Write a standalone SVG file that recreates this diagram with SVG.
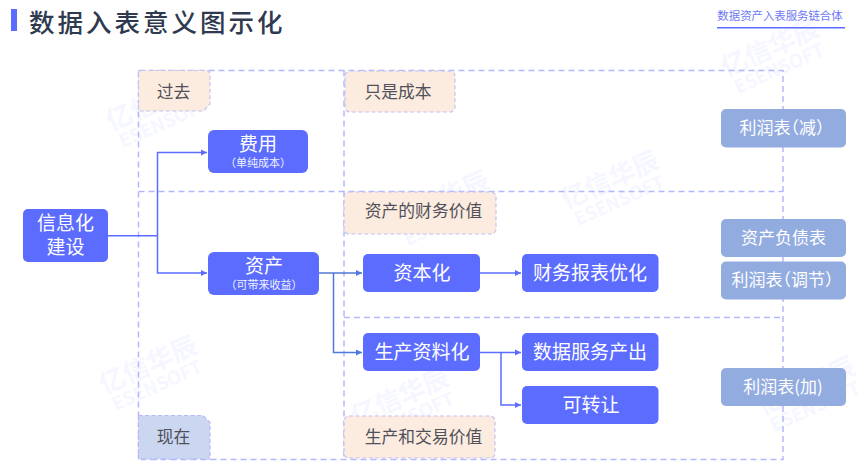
<svg xmlns="http://www.w3.org/2000/svg" width="865" height="462" viewBox="0 0 865 462">
<defs>
<style>
text{font-family:"Noto Sans CJK SC","Liberation Sans",sans-serif;text-anchor:middle}
.dash{fill:none;stroke:#b4b8fb;stroke-width:1.5;stroke-dasharray:6 4}
.tag{fill:#fcebdf;stroke:#c3c2f2;stroke-width:1.2;stroke-dasharray:4 2.5}
.now{fill:#cbd7f0;stroke:#b4b8fb;stroke-width:1.2;stroke-dasharray:4 2.5}
.tt{font-size:16.800px;fill:#50505a}
.box{fill:#5b6cff}
.side{fill:#93acdf}
.w{fill:#fff;font-size:19px}
.s{fill:#fff;font-size:17px}
.h{font-feature-settings:"halt"}
.sub{fill:#f0f2ff;font-size:11px}
.c{fill:none;stroke:#5b6cff;stroke-width:1.5}
.c2{fill:none;stroke:#4f79d6;stroke-width:1.5}
.wm{fill:#5b6cff;opacity:.055;font-weight:700}
.wa{font-size:26px}
.wb{font-size:18.500px}
</style>
<marker id="a" markerUnits="userSpaceOnUse" markerWidth="7" markerHeight="7" refX="6" refY="3.5" orient="auto"><path d="M0 .5L6 3.5L0 6.500Z" fill="#5b6cff"/></marker>
<marker id="b" markerUnits="userSpaceOnUse" markerWidth="7" markerHeight="7" refX="6" refY="3.5" orient="auto"><path d="M0 .5L6 3.5L0 6.500Z" fill="#4f79d6"/></marker>
</defs>
<rect width="865" height="462" fill="#fff"/>
<g id="watermarks">
<g transform="translate(155 102) rotate(-24)"><text class="wm wa" y="9">亿信华辰</text><text class="wm wb" y="29">ESENSOFT</text></g>
<g transform="translate(770 48) rotate(-24)"><text class="wm wa" y="9">亿信华辰</text><text class="wm wb" y="29">ESENSOFT</text></g>
<g transform="translate(610 180) rotate(-24)"><text class="wm wa" y="9">亿信华辰</text><text class="wm wb" y="29">ESENSOFT</text></g>
<g transform="translate(440 200) rotate(-24)"><text class="wm wa" y="9">亿信华辰</text><text class="wm wb" y="29">ESENSOFT</text></g>
<g transform="translate(148 365) rotate(-24)"><text class="wm wa" y="9">亿信华辰</text><text class="wm wb" y="29">ESENSOFT</text></g>
<g transform="translate(400 397) rotate(-24)"><text class="wm wa" y="9">亿信华辰</text><text class="wm wb" y="29">ESENSOFT</text></g>
<g transform="translate(806 386) rotate(-24)"><text class="wm wa" y="9">亿信华辰</text><text class="wm wb" y="29">ESENSOFT</text></g>
</g>
<g id="header">
<rect x="11" y="9" width="6" height="22" fill="#5b6cff"/>
<text x="29" y="32" font-size="25.500px" font-weight="500" letter-spacing="3" fill="#2f3a50" style="text-anchor:start">数据入表意义图示化</text>
<text x="780" y="20" font-size="11.400px" fill="#6f78f5">数据资产入表服务链合体</text>
<rect x="717" y="27" width="128" height="1.500" fill="#5b6cff"/>
</g>
<g id="frame">
<path class="dash" d="M138.500 70.500H783V459.500H138.500Z"/>
<path class="dash" d="M344 70.500V459.500M138.500 191.500H783M344 317.500H783"/>
</g>
<g id="connectors">
<path class="c" d="M108 235.700H157.500M157.500 235.700V152.500H207" marker-end="url(#a)"/>
<path class="c" d="M157.500 235.700V273H207" marker-end="url(#a)"/>
<path class="c2" d="M319 273H362" marker-end="url(#b)"/>
<path class="c2" d="M333.500 273V352.500H362" marker-end="url(#b)"/>
<path class="c" d="M480 273H521" marker-end="url(#a)"/>
<path class="c" d="M480 352.500H521" marker-end="url(#a)"/>
<path class="c" d="M501 352.500V405H521" marker-end="url(#a)"/>
</g>
<g id="tag-past"><path class="tag" d="M142 70.500H206Q210 70.500 210 74.500V104L203 111H138.500V74Q138.500 70.500 142 70.500Z"/><text class="tt" x="173.500" y="98">过去</text></g>
<g id="tag-cost"><rect class="tag" x="345" y="71" width="110" height="41" rx="5"/><text class="tt" x="398" y="98">只是成本</text></g>
<g id="tag-finance"><rect class="tag" x="344" y="192" width="152" height="42" rx="5"/><text class="tt" x="423.500" y="217">资产的财务价值</text></g>
<g id="tag-now"><path class="now" d="M138.500 415.500H203L210 422.500V459H138.500Z"/><text class="tt" x="173.500" y="443">现在</text></g>
<g id="tag-trade"><rect class="tag" x="344" y="416" width="151" height="42" rx="5"/><text class="tt" x="423.500" y="443">生产和交易价值</text></g>
<g id="n-info"><rect class="box" x="23" y="209" width="85" height="53" rx="5"/><text class="w" x="65.500" y="230">信息化</text><text class="w" x="65.500" y="254">建设</text></g>
<g id="n-fee"><rect class="box" x="208" y="130" width="100" height="43" rx="6"/><text class="w" x="258" y="151">费用</text><text class="sub" x="258" y="167">（单纯成本）</text></g>
<g id="n-asset"><rect class="box" x="208" y="252" width="111" height="43" rx="6"/><text class="w" x="264" y="273">资产</text><text class="sub" x="264" y="289">（可带来收益）</text></g>
<g id="n-cap"><rect class="box" x="363" y="254" width="117" height="38" rx="5"/><text class="w" x="422" y="280">资本化</text></g>
<g id="n-prod"><rect class="box" x="363" y="333" width="117" height="38" rx="5"/><text class="w" x="422" y="359">生产资料化</text></g>
<g id="n-report"><rect class="box" x="522" y="254" width="136.500" height="38" rx="5"/><text class="w" x="590" y="280">财务报表优化</text></g>
<g id="n-service"><rect class="box" x="522" y="333" width="136.500" height="38" rx="5"/><text class="w" x="590" y="359">数据服务产出</text></g>
<g id="n-transfer"><rect class="box" x="522" y="386" width="136.500" height="38" rx="5"/><text class="w" x="591" y="412">可转让</text></g>
<g id="s-minus"><rect class="side" x="721" y="109" width="125" height="38.500" rx="5"/><text class="s h" x="782" y="134">利润表（减）</text></g>
<g id="s-balance"><rect class="side" x="721" y="219" width="125" height="38" rx="5"/><text class="s" x="783.500" y="244">资产负债表</text></g>
<g id="s-adjust"><rect class="side" x="721" y="261.500" width="125" height="38" rx="5"/><text class="s h" x="782.500" y="286">利润表（调节）</text></g>
<g id="s-plus"><rect class="side" x="721" y="368" width="125" height="38" rx="5"/><text class="s" x="783" y="393">利润表(加)</text></g>
</svg>
